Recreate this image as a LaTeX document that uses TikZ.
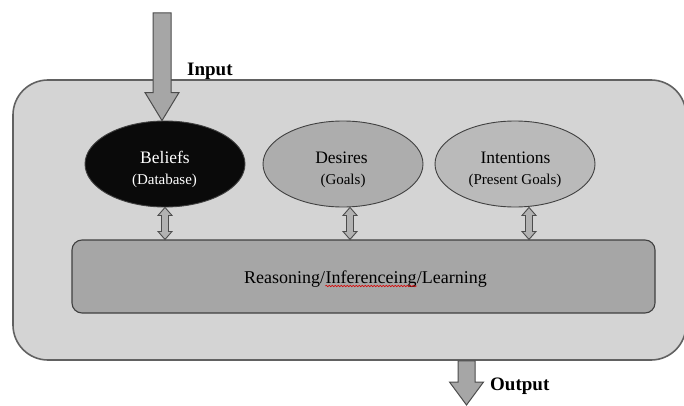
\documentclass[tikz,border=0pt]{standalone}
\usepackage{fontspec}
\setmainfont{Liberation Serif}
\usetikzlibrary{shapes.geometric,decorations.pathmorphing}

% vertical two-headed block arrow between a top and a bottom coordinate
\newcommand\linkarrow[2]{%
  \draw[linkarrow] (#1) -- ([xshift=7pt,yshift=-8pt]#1) -- ([xshift=3.5pt,yshift=-8pt]#1)
    -- ([xshift=3.5pt,yshift=8pt]#2) -- ([xshift=7pt,yshift=8pt]#2) -- (#2)
    -- ([xshift=-7pt,yshift=8pt]#2) -- ([xshift=-3.5pt,yshift=8pt]#2)
    -- ([xshift=-3.5pt,yshift=-8pt]#1) -- ([xshift=-7pt,yshift=-8pt]#1) -- cycle;}

\begin{document}
\begin{tikzpicture}[x=1pt,y=1pt,
  panel/.style={draw=black!62, line width=1.6pt, fill=black!17, rounded corners=35pt,
    inner sep=0pt, minimum width=673pt, minimum height=280pt},
  engine/.style={draw=black!75, line width=1.1pt, fill=black!35, rounded corners=10pt,
    inner sep=0pt, minimum width=583pt, minimum height=73pt},
  oval/.style={ellipse, draw=black!75, line width=0.9pt, inner sep=0pt,
    minimum width=160pt, minimum height=86pt},
  title/.style={inner sep=0pt, anchor=base, font=\fontsize{17.5}{20}\selectfont},
  subtitle/.style={inner sep=0pt, anchor=base, font=\fontsize{15}{18}\selectfont},
  reasontext/.style={inner sep=0pt, anchor=base west, font=\fontsize{18}{21}\selectfont},
  iolabel/.style={inner sep=0pt, anchor=base west, font=\fontsize{19}{22}\selectfont\bfseries},
  fatarrow/.style={draw=black!70, line width=1pt, fill=black!35, line join=miter},
  linkarrow/.style={draw=black!70, line width=0.9pt, fill=black!30, line join=miter},
  spellmark/.style={draw=red!85!black, line width=0.6pt, decorate,
    decoration={snake, amplitude=0.7pt, segment length=3pt}}
]
\useasboundingbox (0,0) rectangle (684,405);
\fill[white] (0,0) rectangle (684,405);

% agent container and reasoning engine
\node[panel] (agent) at (349.5,185) {};
\node[engine] (reason) at (363.5,128.5) {};
\node[reasontext] (r1) at (244,122) {Reasoning/};
\node[reasontext] (r2) at (r1.base east) {Inferenceing};
\node[reasontext] (r3) at (r2.base east) {/Learning};
\draw[spellmark] ([yshift=-3pt]r2.base west) -- ([yshift=-3pt]r2.base east);

% beliefs, desires and intentions
\node[oval, fill=black!96] (bel) at (165,241) {};
\node[oval, fill=black!32] (des) at (343,241) {};
\node[oval, fill=black!27] (int) at (515,241) {};

\node[title, white] (belT) at (165,242) {Beliefs};
\node[subtitle, white] (belS) at (164.5,221) {(Database)};
\node[title] (desT) at (341.5,242) {Desires};
\node[subtitle] (desS) at (343,221) {(Goals)};
\node[title] (intT) at (515.5,242) {Intentions};
\node[subtitle] (intS) at (515,221) {(Present Goals)};

% links between the mental states and the reasoning engine
\coordinate (bA) at (bel.south);
\coordinate (bB) at (bA |- reason.north);
\coordinate (dA) at ([xshift=7pt]des.south);
\coordinate (dB) at (dA |- reason.north);
\coordinate (iA) at ([xshift=14pt]int.south);
\coordinate (iB) at (iA |- reason.north);
\linkarrow{bA}{bB}
\linkarrow{dA}{dB}
\linkarrow{iA}{iB}

% input arrow into the beliefs
\coordinate (inStart) at (162,392);
\coordinate (inTip) at (bel.north -| inStart);
\draw[fatarrow] ([xshift=-9pt]inStart) -- ([xshift=9pt]inStart)
  -- ([xshift=9pt,yshift=28pt]inTip) -- ([xshift=17pt,yshift=28pt]inTip) -- (inTip)
  -- ([xshift=-17pt,yshift=28pt]inTip) -- ([xshift=-9pt,yshift=28pt]inTip) -- cycle;
\node[iolabel] (inLabel) at (187,329) {Input};

% output arrow leaving the agent
\coordinate (outTip) at (466.5,0);
\coordinate (outStart) at (agent.south -| outTip);
\draw[fatarrow] ([xshift=-8.5pt]outStart) -- ([xshift=8.5pt]outStart)
  -- ([xshift=8.5pt,yshift=23pt]outTip) -- ([xshift=17pt,yshift=23pt]outTip) -- (outTip)
  -- ([xshift=-17pt,yshift=23pt]outTip) -- ([xshift=-8.5pt,yshift=23pt]outTip) -- cycle;
\node[iolabel] (outLabel) at (490,15) {Output};
\end{tikzpicture}
\end{document}
